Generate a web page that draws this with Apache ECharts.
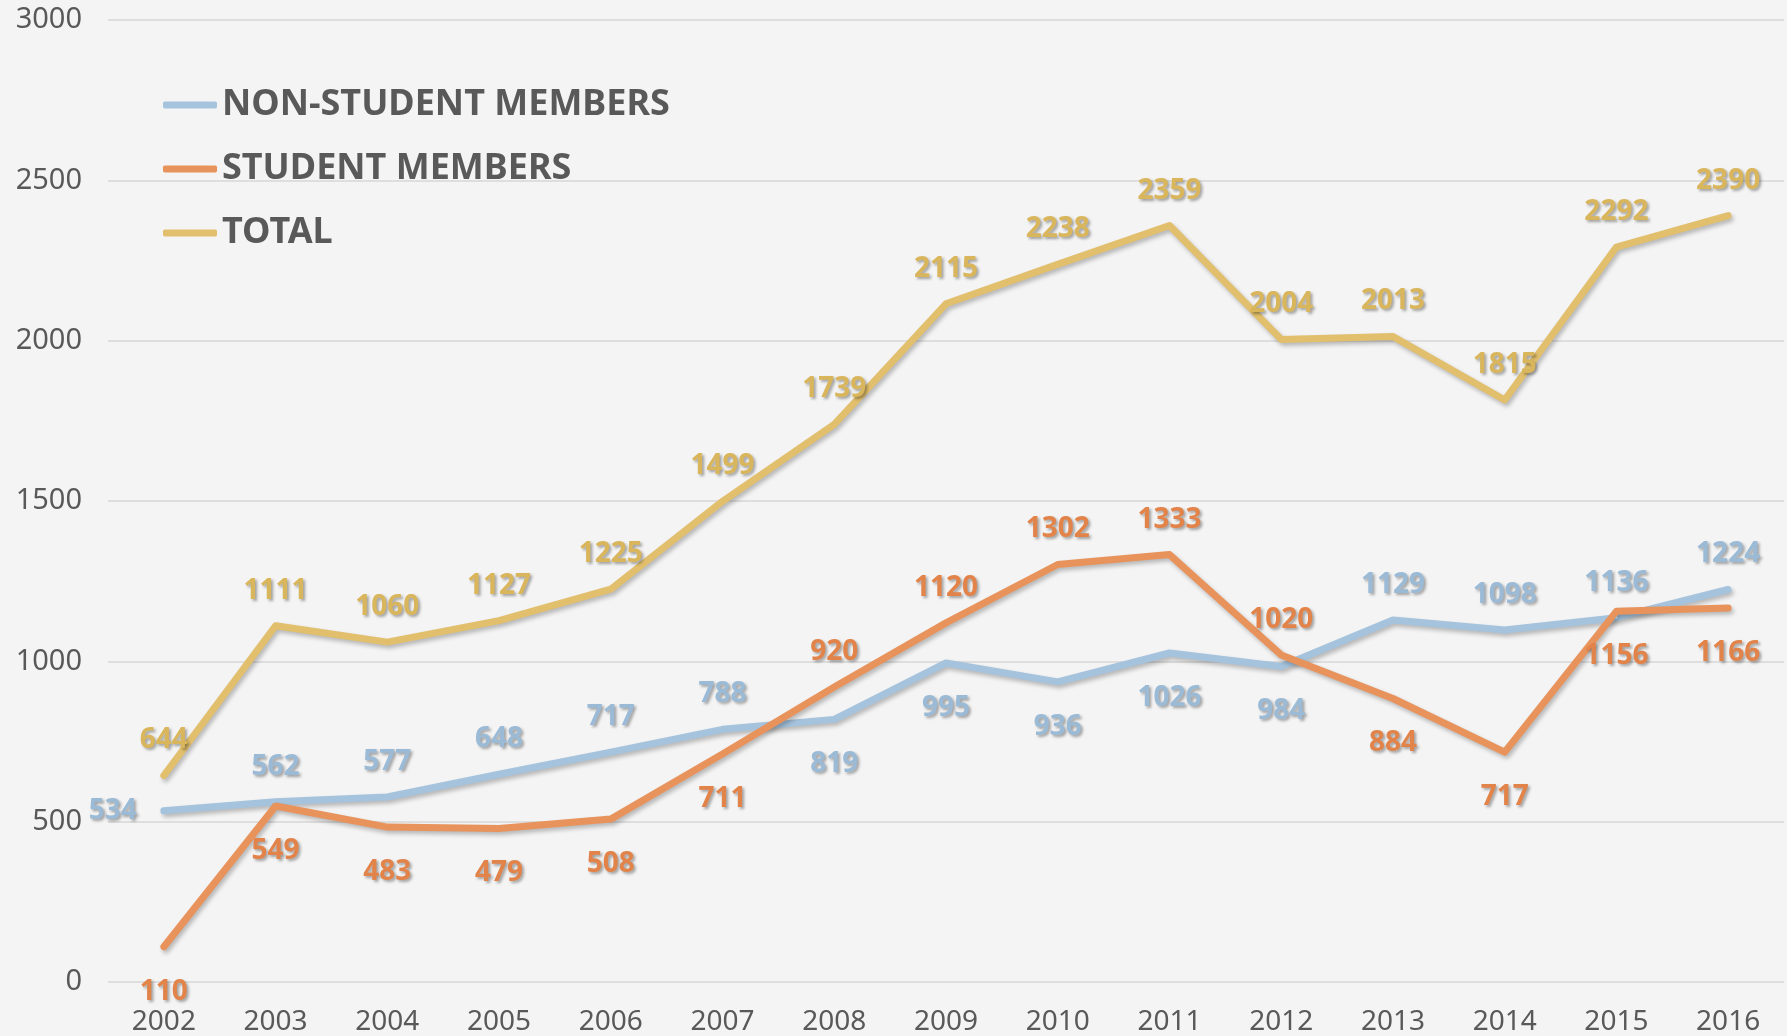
<!DOCTYPE html>
<html>
<head>
<meta charset="utf-8">
<script src="https://cdn.jsdelivr.net/npm/echarts@6/dist/echarts.min.js"></script>
<style>
  html, body { margin: 0; padding: 0; background: #f4f4f4; }
  #chart { width: 1787px; height: 1036px; }
</style>
</head>
<body>
<div id="chart"></div>
<script>
const years = ['2002', '2003', '2004', '2005', '2006', '2007', '2008', '2009', '2010', '2011', '2012', '2013', '2014', '2015', '2016'];
const nonStudent = [534, 562, 577, 648, 717, 788, 819, 995, 936, 1026, 984, 1129, 1098, 1136, 1224];
const student = [110, 549, 483, 479, 508, 711, 920, 1120, 1302, 1333, 1020, 884, 717, 1156, 1166];
const total = [644, 1111, 1060, 1127, 1225, 1499, 1739, 2115, 2238, 2359, 2004, 2013, 1815, 2292, 2390];

// where each value label sits relative to its point
const nonStudentPos = ['left', 'top', 'top', 'top', 'top', 'top', 'bottom', 'bottom', 'bottom', 'bottom', 'bottom', 'top', 'top', 'top', 'top'];
const studentPos = ['bottom', 'bottom', 'bottom', 'bottom', 'bottom', 'bottom', 'top', 'top', 'top', 'top', 'top', 'bottom', 'bottom', 'bottom', 'bottom'];
const totalPos = ['top', 'top', 'top', 'top', 'top', 'top', 'top', 'top', 'top', 'top', 'top', 'top', 'top', 'top', 'top'];

const labelGap = { top: 20, bottom: 30, left: 26 };

const withLabels = (values, positions) => values.map((v, i) => ({
  value: v,
  label: { position: positions[i], distance: labelGap[positions[i]] }
}));

const makeSeries = (name, values, positions, lineColor, labelColor) => ({
  name: name,
  type: 'line',
  data: withLabels(values, positions),
  symbol: 'circle',
  symbolSize: 2,
  itemStyle: { color: lineColor },
  lineStyle: {
    color: lineColor,
    width: 7,
    cap: 'round',
    join: 'round',
    shadowColor: 'rgba(0,0,0,0.25)',
    shadowBlur: 4,
    shadowOffsetX: 2,
    shadowOffsetY: 3
  },
  label: {
    show: true,
    color: labelColor,
    fontFamily: 'Noto Sans',
    fontWeight: 'bold',
    fontSize: 28,
    textShadowColor: 'rgba(0,0,0,0.35)',
    textShadowBlur: 3,
    textShadowOffsetX: 2,
    textShadowOffsetY: 2
  },
  emphasis: { disabled: true }
});

const chart = echarts.init(document.getElementById('chart'));
chart.setOption({
  backgroundColor: '#f4f4f4',
  animation: false,
  grid: { left: 108, right: 3, top: 20, bottom: 54 },
  legend: {
    orient: 'vertical',
    left: 163,
    top: 85,
    padding: 0,
    itemWidth: 54,
    itemHeight: 7,
    itemGap: 24,
    icon: 'roundRect',
    textStyle: {
      color: '#595959',
      fontFamily: 'Noto Sans',
      fontWeight: 'bold',
      fontSize: 36,
      lineHeight: 40
    },
    data: ['NON-STUDENT MEMBERS', 'STUDENT MEMBERS', 'TOTAL']
  },
  xAxis: {
    type: 'category',
    data: years,
    boundaryGap: true,
    axisLine: { show: false },
    axisTick: { show: false },
    axisLabel: {
      color: '#595959',
      fontFamily: 'Noto Sans',
      fontSize: 28,
      margin: 26
    }
  },
  yAxis: {
    type: 'value',
    min: 0,
    max: 3000,
    interval: 500,
    axisLine: { show: false },
    axisTick: { show: false },
    splitLine: { lineStyle: { color: '#dedede', width: 2 } },
    axisLabel: {
      color: '#595959',
      fontFamily: 'Noto Sans',
      fontSize: 29,
      margin: 26,
      formatter: (v) => String(v)
    }
  },
  series: [
    makeSeries('NON-STUDENT MEMBERS', nonStudent, nonStudentPos, '#a5c3dd', '#9bbad6'),
    makeSeries('STUDENT MEMBERS', student, studentPos, '#e8935b', '#e2834a'),
    makeSeries('TOTAL', total, totalPos, '#e1bf6c', '#d9b55b')
  ]
});
</script>
</body>
</html>
